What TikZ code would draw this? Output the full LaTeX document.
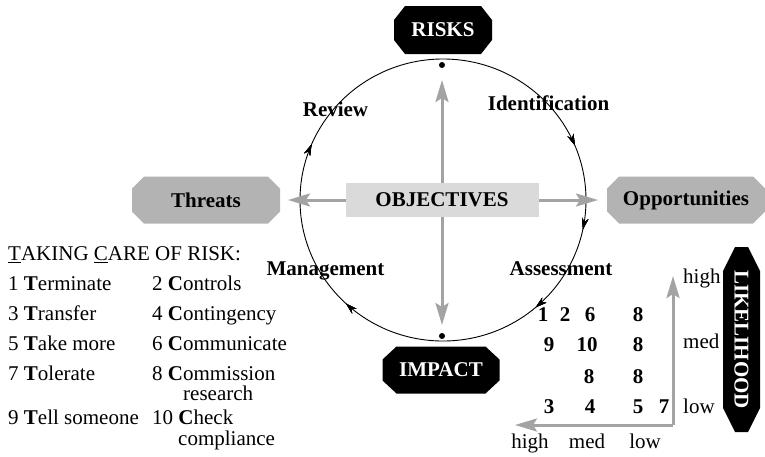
\documentclass[tikz,border=0pt]{standalone}
\usepackage{fontspec}
\setmainfont{Liberation Serif}
\usetikzlibrary{arrows.meta,decorations.markings}
\definecolor{arrgray}{HTML}{A3A3A3}
\definecolor{boxgray}{HTML}{B3B3B3}
\definecolor{objgray}{HTML}{DADADA}
\begin{document}
\begin{tikzpicture}[x=1pt,y=-1pt,
  font=\fontsize{21}{25}\selectfont,
  octo/.style n args={3}{rectangle, inner sep=0pt, font=\fontsize{21}{25}\selectfont\bfseries,
     path picture={\fill[#1]
       ([xshift=#2]path picture bounding box.north west) --
       ([xshift=-#2]path picture bounding box.north east) --
       ([yshift=-#3]path picture bounding box.north east) --
       ([yshift=#3]path picture bounding box.south east) --
       ([xshift=-#2]path picture bounding box.south east) --
       ([xshift=#2]path picture bounding box.south west) --
       ([yshift=#3]path picture bounding box.south west) --
       ([yshift=-#3]path picture bounding box.north west) -- cycle;}},
  garr/.style={draw=arrgray, line width=3pt, -{Stealth[length=22pt,width=13pt,inset=4pt]}},
  lbl/.style={inner sep=0pt, anchor=base, font=\fontsize{21}{25}\selectfont\bfseries},
  lst/.style={inner sep=0pt, anchor=base west},
  num/.style={inner sep=0pt, anchor=base, font=\fontsize{21}{25}\selectfont\bfseries},
  axl/.style={inner sep=0pt},
  dot/.style={circle, fill=black, inner sep=0pt, minimum size=6pt},
  carr/.style={postaction={decorate}, decoration={markings,
     mark=at position #1 with {\arrow{Stealth[length=11pt,width=6.5pt]}}}},
  cyc/.style={line width=0.9pt, carr=0.187, carr=0.283, carr=0.387, carr=0.619, carr=0.814}
]
\useasboundingbox (0,0) rectangle (765,456);

% cycle circle
\coordinate (ctop) at (443,59);
\draw[cyc] (ctop) arc[start angle=90, end angle=-270, x radius=143pt, y radius=141pt];
\node[dot] (dtop) at (442,65) {};
\node[dot] (dbot) at (442,336) {};

% gray arrows from objectives
\coordinate (o) at (442,200);
\coordinate (tup) at (442,80);
\coordinate (tdn) at (442,325);
\coordinate (tlt) at (288,200);
\coordinate (trt) at (598,200);
\draw[garr] (o) -- (tup);
\draw[garr] (o) -- (tdn);
\draw[garr] (o) -- (tlt);
\draw[garr] (o) -- (trt);
\node[rectangle, fill=objgray, minimum width=193pt, minimum height=34pt, inner sep=0pt,
      font=\fontsize{21}{25}\selectfont\bfseries] (obj) at (o) {OBJECTIVES};

% octagon nodes
\node[octo={black}{11pt}{14pt}, text=white, minimum width=98pt, minimum height=48pt] (risks) at (443,30) {RISKS};
\node[octo={black}{14pt}{13pt}, text=white, minimum width=117pt, minimum height=47pt] (impact) at (441,370) {IMPACT};
\node[octo={boxgray}{12pt}{12pt}, minimum width=148pt, minimum height=47pt] (threats) at (206,200) {Threats};
\node[octo={boxgray}{12pt}{12pt}, minimum width=158pt, minimum height=47pt] (opp) at (686,200) {Opportunities};
\node[octo={black}{12pt}{24pt}, text=white, minimum width=37pt, minimum height=185pt] (lik) at (741.5,339.5) {\rotatebox{-90}{LIKELIHOOD}};

% cycle labels
\node[lbl] (review) at (335.5,116.7) {Review};
\node[lbl] (ident) at (548.5,110.7) {Identification};
\node[lbl] (manag) at (325.5,275) {Management};
\node[lbl] (assess) at (561,275) {Assessment};

% list
\node[lst] (h0) at (8,260.7) {\underline{T}AKING \underline{C}ARE OF RISK:};
\node[lst] (l1) at (8,290) {1 \textbf{T}erminate};
\node[lst] (r1) at (152,290) {2 \textbf{C}ontrols};
\node[lst] (l2) at (8,320.7) {3 \textbf{T}ransfer};
\node[lst] (r2) at (152,320.7) {4 \textbf{C}ontingency};
\node[lst] (l3) at (8,350) {5 \textbf{T}ake more};
\node[lst] (r3) at (152,350) {6 \textbf{C}ommunicate};
\node[lst] (l4) at (8,380.7) {7 \textbf{T}olerate};
\node[lst] (r4) at (152,380.7) {8 \textbf{C}ommission};
\node[lst] (r4b) at (183,400) {research};
\node[lst] (l5) at (8,424) {9 \textbf{T}ell someone};
\node[lst] (r5) at (152,424) {10 \textbf{C}heck};
\node[lst] (r5b) at (178,445) {compliance};

% matrix numbers
\node[num] (a1) at (543,321.7) {1};
\node[num] (a2) at (565,321.7) {2};
\node[num] (a3) at (590,321.7) {6};
\node[num] (a4) at (638,321.7) {8};
\node[num] (b1) at (549,351.7) {9};
\node[num] (b2) at (587,351.7) {10};
\node[num] (b3) at (638,351.7) {8};
\node[num] (c1) at (589,383) {8};
\node[num] (c2) at (638,383) {8};
\node[num] (d1) at (549,413) {3};
\node[num] (d2) at (590,413) {4};
\node[num] (d3) at (638,413) {5};
\node[num] (d4) at (664,413) {7};

% axes
\coordinate (corner) at (673,425);
\coordinate (ytip) at (673,276);
\coordinate (xtip) at (515,425);
\draw[garr] (corner) -- (ytip);
\draw[garr] (corner) -- (xtip);
\node[axl, anchor=base west] (yh) at (683,283) {high};
\node[axl, anchor=base west] (ym) at (683,348) {med};
\node[axl, anchor=base west] (yl) at (683,413) {low};
\node[axl, anchor=base] (xh) at (530,448) {high};
\node[axl, anchor=base] (xm) at (587,448) {med};
\node[axl, anchor=base] (xl) at (645,448) {low};
\end{tikzpicture}
\end{document}
